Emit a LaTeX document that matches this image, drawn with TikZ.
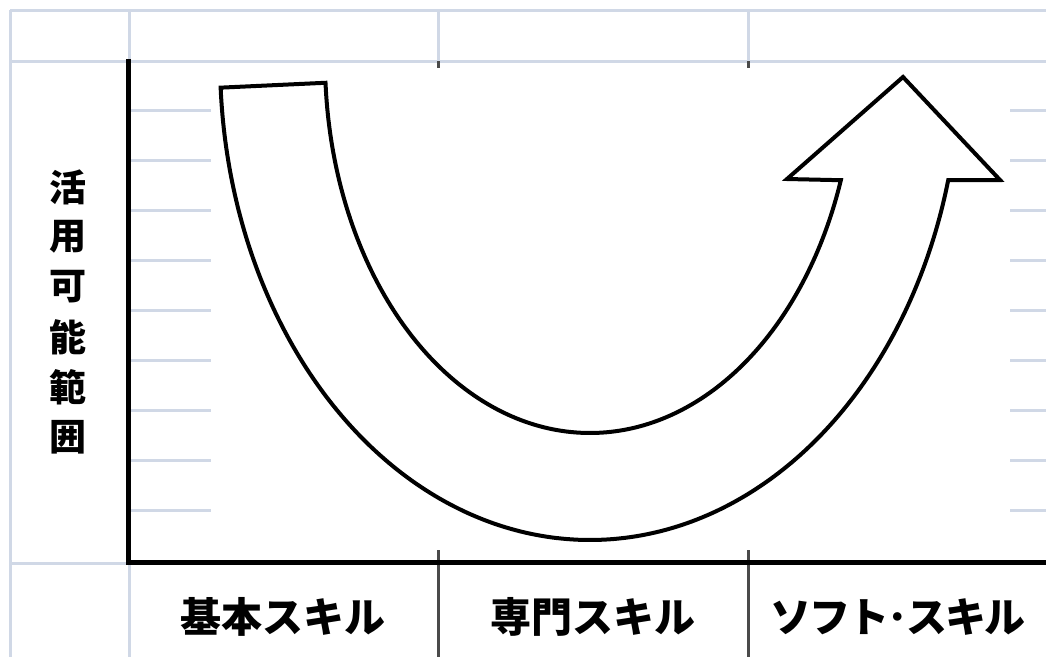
\documentclass[tikz,border=0pt]{standalone}
\usepackage{fontspec}
\setmainfont{Noto Sans CJK JP}
\begin{document}
\begin{tikzpicture}[x=1pt,y=-1pt,
  gridline/.style={draw=gridc,line width=3pt},
  axisline/.style={draw=black,line width=5pt},
  sepline/.style={draw=sepc,line width=3pt},
  arrowshape/.style={draw=black,fill=white,line width=4pt,line join=miter},
  xlab/.style={font=\bfseries\fontsize{41}{41}\selectfont,anchor=center,inner sep=0pt},
  ylab/.style={font=\bfseries\fontsize{37}{37}\selectfont,anchor=center,inner sep=0pt}]
\definecolor{gridc}{HTML}{D0D8E6}
\definecolor{sepc}{HTML}{4A4A4A}
\useasboundingbox[fill=white] (0,0) rectangle (1046,657);
% light grid
\draw[gridline] (10,10) -- (1046,10);
\draw[gridline] (10,61) -- (1046,61);
\draw[gridline] (10,10) -- (10,657);
\draw[gridline] (129,10) -- (129,61);
\draw[gridline] (438,10) -- (438,61);
\draw[gridline] (748,10) -- (748,61);
\draw[gridline] (10,563) -- (128,563);
\draw[gridline] (129,563) -- (129,657);
\foreach \yy in {110,160.1,210.2,260.3,310.4,360.5,410.6,460.7,510.8} {
  \draw[gridline] (131,\yy) -- (211,\yy);
  \draw[gridline] (1010,\yy) -- (1046,\yy);
}
% separators
\draw[sepline] (438,61) -- (438,68);
\draw[sepline] (748,61) -- (748,68);
\draw[sepline] (438,550) -- (438,657);
\draw[sepline] (748,550) -- (748,657);
% axes
\draw[axisline] (128,59) -- (128,564);
\draw[axisline] (126,562) -- (1046,562);
% U-shaped arrow
\draw[arrowshape]
  plot[domain=176.5:18.8,samples=160,variable=\s] ({590+265*cos(\s)},{60+373*sin(\s)})
  -- (787,179) -- (903,77) -- (1000,180)
  -- plot[domain=14.5:176.7,samples=200,variable=\t] ({590+370*cos(\t)},{60+480*sin(\t)})
  -- cycle;
% labels
\node[xlab] (l1) at (283,617) {基本スキル};
\node[xlab] (l2) at (593,617) {専門スキル};
\node[xlab] (l3) at (898,617) {ソ\kern-0.04emフ\kern-0.04emト\kern-0.05em･\kern-0.05emス\kern-0.04emキ\kern-0.04emル};
\node[ylab] (y1) at (68,187) {活};
\node[ylab] (y2) at (68,237) {用};
\node[ylab] (y3) at (68,287) {可};
\node[ylab] (y4) at (68,337) {能};
\node[ylab] (y5) at (68,387) {範};
\node[ylab] (y6) at (68,437) {囲};
\end{tikzpicture}
\end{document}
